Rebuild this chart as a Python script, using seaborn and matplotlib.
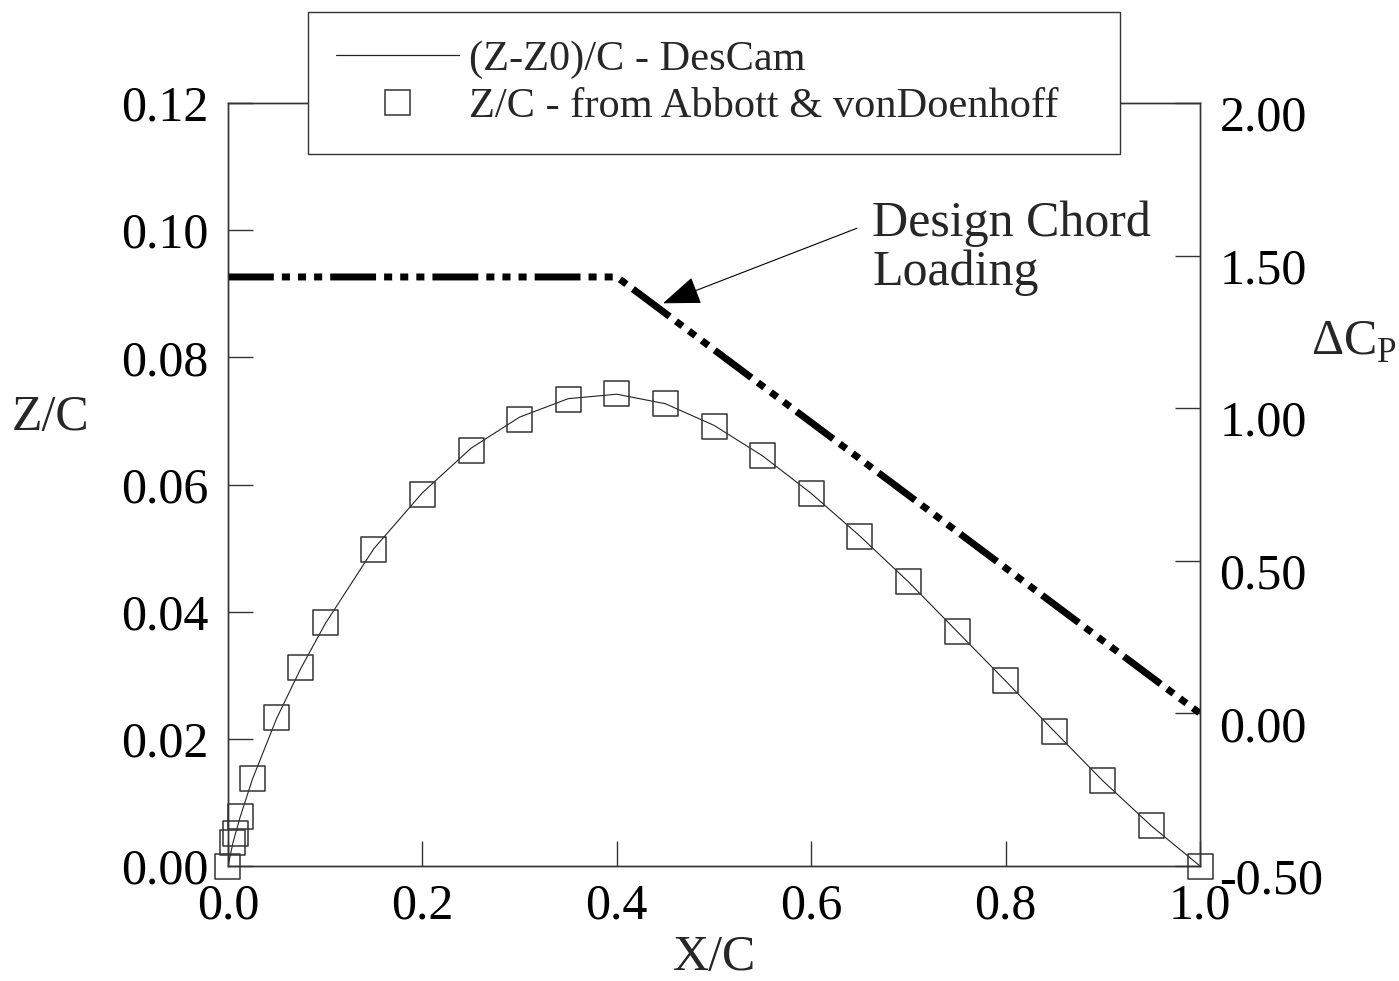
import matplotlib
matplotlib.use("Agg")
import matplotlib.pyplot as plt
import seaborn as sns
import pandas as pd
from matplotlib.lines import Line2D
from matplotlib.transforms import ScaledTranslation

# ---------------- data ----------------
x_stations = [0.0, 0.005, 0.0075, 0.0125, 0.025, 0.05, 0.075, 0.10, 0.15, 0.20,
              0.25, 0.30, 0.35, 0.40, 0.45, 0.50, 0.55, 0.60, 0.65, 0.70,
              0.75, 0.80, 0.85, 0.90, 0.95, 1.00]
zc_abbott = [0.0, 0.0037, 0.0051, 0.0078, 0.0137, 0.0233, 0.0312, 0.0383, 0.0497, 0.0585,
             0.0654, 0.0703, 0.0733, 0.0743, 0.0727, 0.0692, 0.0645, 0.0586, 0.0519, 0.0447,
             0.0369, 0.0291, 0.0212, 0.0135, 0.0063, 0.0]
zc_descam = [0.0, 0.0036, 0.0050, 0.0077, 0.0136, 0.0232, 0.0311, 0.0381, 0.0499, 0.0587,
             0.0657, 0.0706, 0.0735, 0.0742, 0.0727, 0.0693, 0.0645, 0.0586, 0.0519, 0.0447,
             0.0369, 0.0291, 0.0212, 0.0134, 0.0063, 0.0]
x_load = [0.0, 0.4, 1.0]
dcp_load = [1.43, 1.43, 0.0]

x_ticks = [0.0, 0.2, 0.4, 0.6, 0.8, 1.0]
z_ticks = [0.00, 0.02, 0.04, 0.06, 0.08, 0.10, 0.12]
dcp_ticks = [-0.50, 0.00, 0.50, 1.00, 1.50, 2.00]

legend_labels = ["(Z-Z0)/C - DesCam", "Z/C - from Abbott & vonDoenhoff"]

# ---------------- style ----------------
sns.set_theme(style="ticks")
plt.rcParams["font.family"] = ["Liberation Serif", "DejaVu Serif"]
plt.rcParams["mathtext.fontset"] = "custom"
plt.rcParams["mathtext.rm"] = "Liberation Serif"
plt.rcParams["axes.unicode_minus"] = False
plt.rcParams["lines.scale_dashes"] = False

TICK_FS = 36
SPINE_C = "#333333"

fig = plt.figure(figsize=(13.99, 9.81), dpi=100)
ax = fig.add_axes([228 / 1399, 1 - 866 / 981, (1200 - 228) / 1399, (866 - 103) / 981])
ax2 = ax.twinx()

df_line = pd.DataFrame({"x": x_stations, "z": zc_descam})
df_pts = pd.DataFrame({"x": x_stations, "z": zc_abbott})
df_load = pd.DataFrame({"x": x_load, "dcp": dcp_load})

sns.lineplot(data=df_line, x="x", y="z", ax=ax, color="#222222", linewidth=0.8,
             sort=False, estimator=None, zorder=2)
sns.scatterplot(data=df_pts, x="x", y="z", ax=ax, marker="s", s=18 ** 2,
                facecolor="none", edgecolor="#333333", linewidth=1.1, zorder=3,
                clip_on=False)
sns.lineplot(data=df_load, x="x", y="dcp", ax=ax2, color="black", linewidth=5.0,
             sort=False, estimator=None)
load_line = ax2.lines[0]
load_line.set_dashes([33, 5.8, 5.8, 5.8, 5.8, 5.8, 5.8, 5.8])
load_line.set_dash_capstyle("butt")

# axes limits & ticks
ax.set_xlim(0, 1.0)
ax.set_ylim(0, 0.12)
ax2.set_ylim(-0.5, 2.0)
ax.set_xticks(x_ticks)
ax.set_xticklabels([f"{v:.1f}" for v in x_ticks])
ax.set_yticks(z_ticks)
ax.set_yticklabels([f"{v:.2f}" for v in z_ticks])
ax2.set_yticks(dcp_ticks)
ax2.set_yticklabels([f"{v:.2f}" for v in dcp_ticks])
ax.set_xlabel("")
ax.set_ylabel("")
ax2.set_ylabel("")

for a in (ax, ax2):
    for sp in a.spines.values():
        sp.set_visible(True)
        sp.set_color(SPINE_C)
        sp.set_linewidth(1.0)
ax.tick_params(axis="both", direction="in", length=18, width=1.0, color=SPINE_C,
               labelsize=TICK_FS, labelcolor="black")
ax.tick_params(axis="y", pad=14, right=False)
ax.tick_params(axis="x", pad=12, top=False)
ax2.tick_params(axis="y", direction="in", length=18, width=1.0, color=SPINE_C,
                labelsize=TICK_FS, labelcolor="black", pad=14)

# right tick labels sit slightly below their ticks
off = ScaledTranslation(0, -10 / 100, fig.dpi_scale_trans)
for lab in ax2.get_yticklabels():
    lab.set_transform(lab.get_transform() + off)

# axis titles
fig.text(50 / 1399, 1 - 418 / 981, "Z/C", fontsize=TICK_FS, ha="center", va="center")
fig.text(714 / 1399, 1 - 958 / 981, "X/C", fontsize=TICK_FS, ha="center", va="center")
fig.text(1311 / 1399, 1 - 355 / 981, r"ΔC$_\mathrm{P}$", fontsize=TICK_FS,
         ha="left", va="baseline")

# annotation
ax.text(0.6626, 0.0972, "Design Chord\nLoading", fontsize=TICK_FS, ha="left", va="center",
        linespacing=1.08)
ax.annotate("", xy=(0.4475, 0.0885), xytext=(0.647, 0.1003),
            arrowprops=dict(arrowstyle="-|>,head_length=2.0,head_width=0.75",
                            color="black", linewidth=0.8, shrinkA=0, shrinkB=0))

# legend
handles = [Line2D([], [], color="#222222", linewidth=0.9),
           Line2D([], [], marker="s", linestyle="none", markersize=18,
                  markerfacecolor="none", markeredgecolor="#333333", markeredgewidth=1.1)]
leg = fig.legend(handles, legend_labels, loc="upper left",
                 bbox_to_anchor=(308 / 1399, 1 - 147 / 981, (1120 - 308) / 1399, (147 - 12) / 981),
                 bbox_transform=fig.transFigure, mode="expand", borderaxespad=0,
                 fontsize=30.5, frameon=True, fancybox=False, framealpha=1,
                 edgecolor="#333333", handlelength=2.9, handletextpad=0.25,
                 labelspacing=0.2, borderpad=0.66)
leg.get_frame().set_linewidth(1.0)

fig.savefig("out.png", dpi=100)
